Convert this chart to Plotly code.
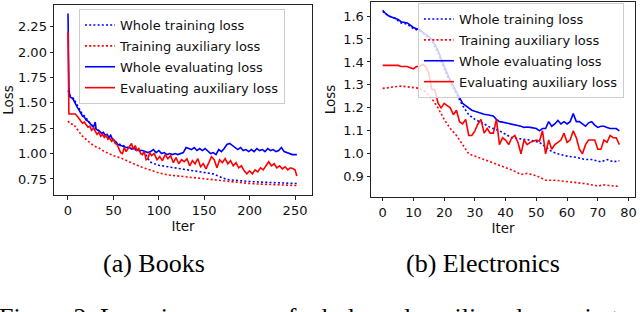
import plotly.graph_objects as go

# ---------------- Books ----------------
books_wt_x = [0, 3, 6, 10, 15, 20, 25, 30, 35, 40, 45, 50, 55, 60, 65, 70, 75, 80, 86, 88, 90, 95, 100,
              110, 120, 130, 140, 150, 157, 160, 165, 170, 175, 180, 190, 200, 210, 220, 230, 240, 252]
books_wt_y = [1.62, 1.56, 1.545, 1.48, 1.40, 1.35, 1.29, 1.25, 1.22, 1.19, 1.16, 1.13, 1.10, 1.08, 1.06,
              1.045, 1.035, 1.02, 0.99, 0.96, 0.92, 0.90, 0.885, 0.87, 0.855, 0.84, 0.83, 0.815, 0.805,
              0.80, 0.78, 0.76, 0.745, 0.74, 0.73, 0.725, 0.72, 0.715, 0.71, 0.71, 0.705]

books_ta_x = [0, 3, 6, 10, 15, 20, 25, 30, 35, 40, 50, 60, 70, 80, 90, 100, 110, 120, 130, 140, 150,
              160, 170, 180, 190, 200, 210, 220, 230, 240, 252]
books_ta_y = [1.32, 1.29, 1.29, 1.24, 1.18, 1.14, 1.10, 1.07, 1.05, 1.02, 0.98, 0.95, 0.91, 0.87, 0.84,
              0.81, 0.79, 0.78, 0.77, 0.76, 0.75, 0.74, 0.73, 0.72, 0.71, 0.705, 0.70, 0.695, 0.69,
              0.69, 0.685]

books_we_x = [0, 1, 2, 4, 6, 8, 10, 12, 14, 16, 18, 20, 22, 24, 26, 28, 30, 31, 33, 35, 37, 39, 41, 43,
              45, 47, 49, 51, 53, 55, 58, 61, 64, 67, 70, 73, 76, 79, 82, 85, 88, 91, 94, 97, 100, 103,
              106, 109, 112, 115, 118, 121, 124, 127, 130, 133, 136, 139, 142, 145, 148, 151, 154, 157,
              160, 163, 166, 169, 172, 175, 178, 181, 184, 187, 190, 193, 196, 199, 202, 205, 208, 211,
              214, 217, 220, 223, 226, 229, 232, 235, 238, 241, 244, 247, 250, 252]
books_we_y = [2.38, 1.65, 1.56, 1.55, 1.53, 1.49, 1.46, 1.43, 1.40, 1.37, 1.36, 1.33, 1.32, 1.30, 1.28,
              1.26, 1.31, 1.24, 1.23, 1.22, 1.20, 1.21, 1.18, 1.19, 1.16, 1.18, 1.14, 1.13, 1.11, 1.09,
              1.08, 1.07, 1.06, 1.06, 1.05, 1.05, 1.04, 1.03, 1.03, 1.02, 1.01, 1.02, 1.04, 1.01, 1.03,
              1.00, 1.01, 0.99, 1.00, 0.99, 1.00, 0.99, 1.00, 1.01, 1.06, 1.05, 1.04, 1.06, 1.03, 1.05,
              1.03, 1.05, 1.02, 1.00, 1.01, 0.99, 1.04, 1.02, 1.05, 1.09, 1.10, 1.08, 1.06, 1.04, 1.06,
              1.03, 1.04, 1.02, 1.04, 1.02, 1.05, 1.03, 1.04, 1.02, 1.05, 1.03, 1.04, 1.02, 1.03, 1.06,
              1.02, 1.01, 1.00, 0.99, 0.99, 0.99]

books_ea_x = [0, 1, 4, 8, 10, 12, 14, 16, 18, 20, 22, 24, 26, 28, 30, 32, 34, 36, 38, 40, 42, 44, 46,
              48, 50, 52, 54, 56, 58, 60, 62, 64, 66, 68, 70, 72, 74, 76, 78, 80, 82, 84, 86, 88, 90,
              92, 95, 98, 101, 104, 107, 110, 113, 116, 119, 122, 125, 128, 131, 134, 137, 140, 143,
              146, 149, 152, 155, 158, 161, 164, 167, 170, 173, 176, 179, 182, 185, 188, 191, 194, 197,
              200, 203, 206, 209, 212, 215, 218, 221, 224, 227, 230, 233, 236, 239, 242, 245, 248, 250,
              252]
books_ea_y = [2.20, 1.39, 1.39, 1.39, 1.37, 1.35, 1.33, 1.30, 1.31, 1.28, 1.26, 1.27, 1.23, 1.25, 1.22,
              1.19, 1.21, 1.17, 1.19, 1.16, 1.18, 1.14, 1.15, 1.12, 1.14, 1.10, 1.09, 1.05, 1.01, 1.00,
              1.06, 1.02, 1.05, 1.07, 1.10, 1.04, 1.08, 1.03, 1.05, 1.00, 0.99, 1.02, 0.94, 0.95, 1.01,
              0.98, 1.00, 0.94, 0.97, 0.93, 0.99, 0.95, 0.98, 0.91, 0.96, 0.90, 0.94, 0.92, 0.95, 0.88,
              0.93, 0.90, 0.95, 0.87, 0.90, 0.85, 0.92, 0.97, 0.94, 0.86, 0.94, 0.91, 0.95, 0.90, 0.93,
              0.88, 0.91, 0.86, 0.88, 0.83, 0.80, 0.83, 0.80, 0.84, 0.82, 0.86, 0.84, 0.88, 0.92, 0.88,
              0.90, 0.86, 0.88, 0.85, 0.87, 0.84, 0.86, 0.85, 0.84, 0.78]

# ---------------- Electronics ----------------
elec_x = list(range(0, 78))
elec_we_y = [1.625, 1.61, 1.60, 1.595, 1.59, 1.585, 1.575, 1.573, 1.57, 1.56, 1.55, 1.545, 1.54, 1.53,
             1.52, 1.51, 1.50, 1.475, 1.45, 1.415, 1.38, 1.35, 1.32, 1.295, 1.27, 1.245, 1.22, 1.21,
             1.20, 1.19, 1.185, 1.18, 1.175, 1.172, 1.17, 1.168, 1.165, 1.15, 1.14, 1.138, 1.135,
             1.133, 1.13, 1.127, 1.125, 1.12, 1.115, 1.117, 1.115, 1.112, 1.11, 1.10, 1.11, 1.11,
             1.14, 1.12, 1.13, 1.145, 1.13, 1.14, 1.13, 1.14, 1.175, 1.14, 1.14, 1.13, 1.12, 1.135,
             1.14, 1.125, 1.115, 1.12, 1.12, 1.115, 1.11, 1.11, 1.11, 1.10]
elec_ea_y = [1.385, 1.385, 1.385, 1.385, 1.385, 1.385, 1.38, 1.38, 1.38, 1.375, 1.37, 1.38, 1.38, 1.39,
             1.38, 1.35, 1.28, 1.28, 1.22, 1.20, 1.22, 1.21, 1.20, 1.17, 1.19, 1.14, 1.13, 1.15, 1.08,
             1.08, 1.10, 1.13, 1.15, 1.09, 1.11, 1.09, 1.09, 1.15, 1.04, 1.07, 1.06, 1.04, 1.07, 1.08,
             1.05, 1.00, 1.06, 1.04, 1.05, 1.055, 1.06, 1.055, 1.10, 1.00, 1.06, 1.02, 1.04, 1.05,
             1.06, 1.09, 1.05, 1.06, 1.10, 1.07, 1.02, 1.00, 1.04, 1.06, 1.06, 1.06, 1.02, 1.02, 1.06,
             1.05, 1.08, 1.07, 1.07, 1.04]
elec_wt_x = [0, 2, 4, 6, 8, 10, 12, 14, 16, 18, 20, 22, 24, 26, 28, 30, 33, 35, 38, 40, 42, 45, 48, 51,
             53, 55, 57, 60, 63, 66, 68, 71, 73, 75, 77]
elec_wt_y = [1.62, 1.60, 1.59, 1.57, 1.565, 1.545, 1.535, 1.515, 1.49, 1.44, 1.37, 1.31, 1.26, 1.21,
             1.17, 1.15, 1.13, 1.115, 1.10, 1.085, 1.07, 1.065, 1.06, 1.05, 1.03, 1.01, 1.00, 0.99,
             0.985, 0.975, 0.975, 0.965, 0.975, 0.965, 0.97]
elec_ta_x = [0, 3, 6, 9, 12, 14, 16, 18, 20, 22, 24, 26, 28, 30, 33, 36, 39, 42, 45, 47, 50, 53, 56,
             60, 63, 66, 70, 72, 75, 77]
elec_ta_y = [1.285, 1.29, 1.295, 1.29, 1.285, 1.27, 1.24, 1.20, 1.15, 1.11, 1.08, 1.04, 1.00, 0.99,
             0.975, 0.96, 0.945, 0.93, 0.91, 0.915, 0.905, 0.885, 0.885, 0.88, 0.875, 0.87, 0.86,
             0.865, 0.86, 0.858]

names = ["Whole training loss", "Training auxiliary loss", "Whole evaluating loss",
         "Evaluating auxiliary loss"]
captions = ["(a) Books", "(b) Electronics"]
fig_caption = "Figure 2: Learning curves of whole and auxiliary losses in training."

BLUE = "#0000ff"
RED = "#ff0000"
FONT = "DejaVu Sans"
DOT = "2px,2.2px"

fig = go.Figure()
series_left = [(books_wt_x, books_wt_y, BLUE, DOT), (books_ta_x, books_ta_y, RED, DOT),
               (books_we_x, books_we_y, BLUE, "solid"), (books_ea_x, books_ea_y, RED, "solid")]
series_right = [(elec_wt_x, elec_wt_y, BLUE, DOT), (elec_ta_x, elec_ta_y, RED, DOT),
                (elec_x, elec_we_y, BLUE, "solid"), (elec_x, elec_ea_y, RED, "solid")]

for i, ((x, y, c, d), n) in enumerate(zip(series_left, names)):
    fig.add_trace(go.Scatter(x=x, y=y, mode="lines", name=n, line=dict(color=c, dash=d, width=1.6),
                             xaxis="x", yaxis="y", legend="legend", legendgroup="a%d" % i))
for i, ((x, y, c, d), n) in enumerate(zip(series_right, names)):
    fig.add_trace(go.Scatter(x=x, y=y, mode="lines", name=n, line=dict(color=c, dash=d, width=1.6),
                             xaxis="x2", yaxis="y2", legend="legend2", legendgroup="b%d" % i))

axis_common = dict(showline=True, linecolor="#222222", linewidth=1, mirror=True, ticks="outside",
                   ticklen=3.5, tickcolor="#222222", showgrid=False, zeroline=False, automargin=False,
                   tickfont=dict(family=FONT, size=13, color="#111111"))
title_font = dict(family=FONT, size=13.5, color="#111111")
legend_common = dict(xanchor="left", yanchor="top", bgcolor="rgba(255,255,255,0.8)",
                     bordercolor="#cccccc", borderwidth=1,
                     font=dict(family=FONT, size=13, color="#111111"), tracegroupgap=1)

fig.update_layout(
    width=640, height=312, margin=dict(l=0, r=0, t=0, b=0, autoexpand=False),
    paper_bgcolor="white", plot_bgcolor="white", showlegend=True,
    xaxis=dict(domain=[0.0844, 0.4875], range=[-15.4, 268.7], dtick=50, tick0=0,
               title=dict(text="Iter", font=title_font, standoff=0), anchor="y", **axis_common),
    yaxis=dict(domain=[0.375, 0.984], range=[0.592, 2.464], dtick=0.25, tick0=0.75, tickformat=".2f",
               title=dict(text="Loss", font=title_font, standoff=4), anchor="x", **axis_common),
    xaxis2=dict(domain=[0.5797, 0.9922], range=[-3.8, 82.1], dtick=10, tick0=0,
                title=dict(text="Iter", font=title_font, standoff=0), anchor="y2", **axis_common),
    yaxis2=dict(domain=[0.3686, 0.9936], range=[0.812, 1.661], dtick=0.1, tick0=0.9, tickformat=".1f",
                title=dict(text="Loss", font=title_font, standoff=4), anchor="x2", **axis_common),
    legend=dict(x=0.1234, y=1 - 9 / 312, **legend_common),
    legend2=dict(x=0.653, y=1 - 3 / 312, **legend_common),
    annotations=[
        dict(text=captions[0], x=154 / 640, y=1 - 263 / 312, xref="paper", yref="paper",
             showarrow=False, xanchor="center", yanchor="middle",
             font=dict(family="Liberation Serif", size=26, color="black")),
        dict(text=captions[1], x=483 / 640, y=1 - 263 / 312, xref="paper", yref="paper",
             showarrow=False, xanchor="center", yanchor="middle",
             font=dict(family="Liberation Serif", size=26, color="black")),
        dict(text=fig_caption, x=-3 / 640, y=1 - 301 / 312, xref="paper", yref="paper",
             showarrow=False, xanchor="left", yanchor="top",
             font=dict(family="Liberation Serif", size=26, color="black")),
    ],
)

fig.write_html("out.html", config={"displayModeBar": False},
               post_script="document.body.style.margin='0';document.body.style.overflow='hidden';")
